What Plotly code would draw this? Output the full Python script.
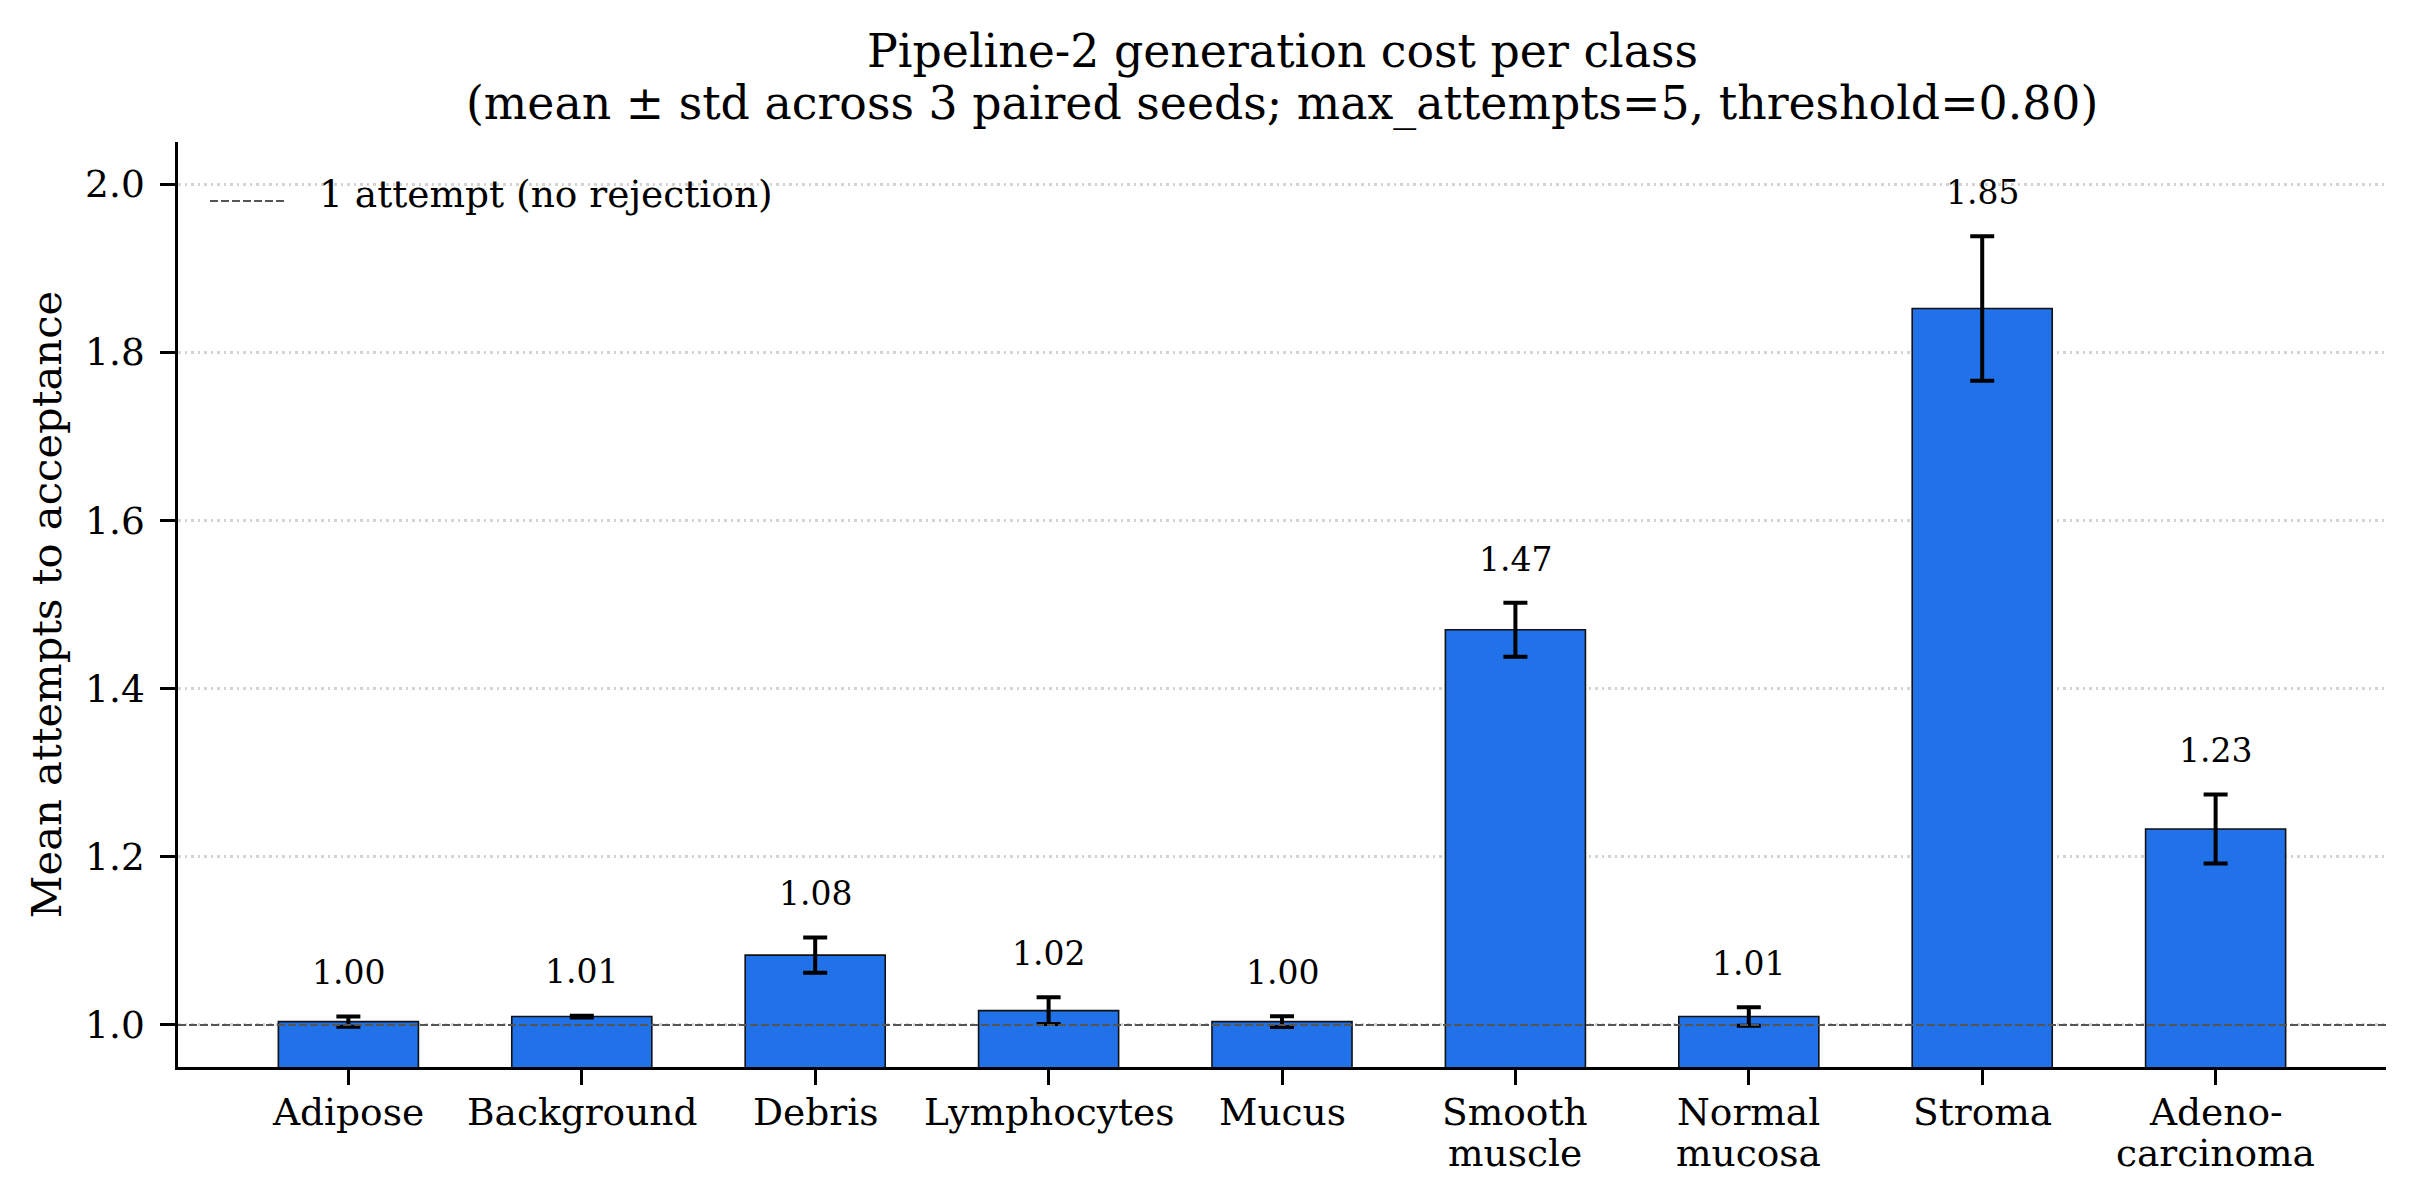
import plotly.graph_objects as go

# per-class generation cost (mean / std over 3 paired seeds)
classes = ["Adipose", "Background", "Debris", "Lymphocytes", "Mucus",
           "Smooth muscle", "Normal mucosa", "Stroma", "Adenocarcinoma"]
tick_lines = [["Adipose"], ["Background"], ["Debris"], ["Lymphocytes"], ["Mucus"],
              ["Smooth", "muscle"], ["Normal", "mucosa"], ["Stroma"], ["Adeno-", "carcinoma"]]
mean_attempts = [1.004, 1.010, 1.083, 1.017, 1.004, 1.470, 1.010, 1.852, 1.233]
std_attempts = [0.006, 0.001, 0.021, 0.016, 0.0065, 0.032, 0.011, 0.086, 0.041]
baseline = 1.0
y_ticks = [1.0, 1.2, 1.4, 1.6, 1.8, 2.0]
title_lines = ["Pipeline-2 generation cost per class",
               "(mean ± std across 3 paired seeds; max_attempts=5, threshold=0.80)"]

FONT = "DejaVu Serif"
W, H = 2416, 1204
# page body adds an 8px offset, margins compensate for it
L, R, T, B = 170, 38, 134, 145
PH = H - T - B

fig = go.Figure()

fig.add_trace(go.Bar(
    x=classes,
    y=mean_attempts,
    width=0.6,
    marker=dict(color="#2171e8", line=dict(color="#111111", width=1.6)),
    error_y=dict(type="data", array=std_attempts, visible=True,
                 color="black", thickness=4, width=12),
    showlegend=False,
))

# reference line at one attempt
fig.add_hline(y=baseline, line=dict(color="#555555", width=2, dash="8px,3px"))

# value labels above the error bars
for c, m, s in zip(classes, mean_attempts, std_attempts):
    fig.add_annotation(x=c, y=m + s + 0.052, text=f"{m:.2f}", showarrow=False,
                       xref="x", yref="y", yanchor="middle",
                       font=dict(family=FONT, size=33, color="black"))

# category labels, one annotation per line for tight line spacing
for c, lines in zip(classes, tick_lines):
    for i, txt in enumerate(lines):
        fig.add_annotation(x=c, y=-(44.5 + 41 * i) / PH, text=txt, showarrow=False,
                           xref="x", yref="paper", yanchor="middle",
                           font=dict(family=FONT, size=37.5, color="black"))

# two-line title
for i, txt in enumerate(title_lines):
    fig.add_annotation(x=0.5, y=1 + (91 - 52 * i) / PH, text=txt, showarrow=False,
                       xref="paper", yref="paper", xanchor="center", yanchor="middle",
                       font=dict(family=FONT, size=45.8, color="black"))

# hand-drawn legend (frameless, upper left)
fig.add_shape(type="line", xref="paper", yref="paper",
              x0=0.0145, x1=0.0485, y0=0.9362, y1=0.9362,
              line=dict(color="#555555", width=2, dash="8px,3px"))
fig.add_annotation(x=0.063, y=0.944, xref="paper", yref="paper",
                   text="1 attempt (no rejection)", showarrow=False,
                   xanchor="left", yanchor="middle",
                   font=dict(family=FONT, size=37.5, color="black"))

fig.update_layout(
    width=W, height=H,
    margin=dict(l=L, r=R, t=T, b=B),
    paper_bgcolor="white", plot_bgcolor="white",
    font=dict(family=FONT, size=37.5, color="black"),
    bargap=0.4,
)

fig.update_xaxes(
    type="category", range=[-0.73, len(classes) - 1 + 0.73],
    showline=True, linecolor="black", linewidth=3.3,
    ticks="outside", ticklen=14.6, tickwidth=3.3, tickcolor="black",
    showticklabels=False, showgrid=False, zeroline=False,
)

fig.update_yaxes(
    range=[0.95, 2.05], tickvals=y_ticks,
    ticktext=[f"{v:.1f}" for v in y_ticks],
    showline=True, linecolor="black", linewidth=3.3,
    ticks="outside", ticklen=14.6, tickwidth=3.3, tickcolor="black",
    ticklabelstandoff=8,
    showgrid=True, gridcolor="#d3d3d3", gridwidth=2.5, griddash="2.5px,4px",
    zeroline=False,
    tickfont=dict(family=FONT, size=37.5, color="black"),
    title=dict(text="Mean attempts to acceptance", standoff=11,
               font=dict(family=FONT, size=41.7, color="black")),
)

fig.write_html("out.html")
